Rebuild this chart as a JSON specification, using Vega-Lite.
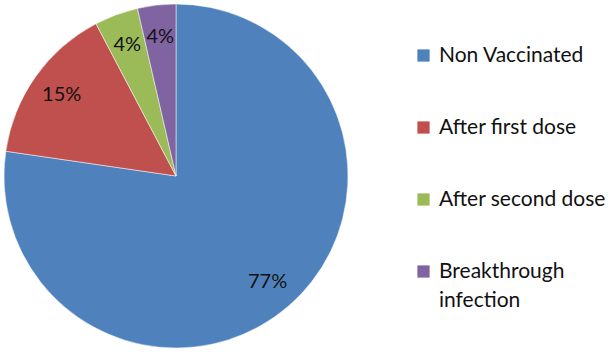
{
  "$schema": "https://vega.github.io/schema/vega-lite/v6.json",
  "width": 352,
  "height": 352,
  "padding": {"left": 0, "top": 0, "right": 262, "bottom": 0},
  "autosize": {"type": "none"},
  "background": "white",
  "config": {
    "view": {"stroke": null},
    "font": "Lato",
    "style": {"guide-label": {"lineHeight": 29}}
  },
  "data": {
    "values": [
      {"group": "Non Vaccinated", "value": 77.3, "label": "77%", "order": 1},
      {"group": "After first dose", "value": 15.0, "label": "15%", "order": 2},
      {"group": "After second dose", "value": 4.1, "label": "4%", "order": 3},
      {"group": "Breakthrough infection", "value": 3.6, "label": "4%", "order": 4}
    ]
  },
  "encoding": {
    "theta": {"field": "value", "type": "quantitative", "stack": true},
    "order": {"field": "order", "type": "quantitative"}
  },
  "layer": [
    {
      "mark": {"type": "arc", "radius": 172, "stroke": "white", "strokeWidth": 0.5},
      "encoding": {
        "color": {
          "field": "group",
          "type": "nominal",
          "scale": {
            "domain": ["Non Vaccinated", "After first dose", "After second dose", "Breakthrough infection"],
            "range": ["#4F81BD", "#C0504D", "#9BBB59", "#8064A2"]
          },
          "legend": {
            "title": null,
            "orient": "none",
            "legendX": 413,
            "legendY": 45,
            "symbolType": "square",
            "symbolSize": 150,
            "symbolStrokeWidth": 0,
            "labelFontSize": 21,
            "labelFont": "Lato",
            "labelColor": "#111111",
            "labelLimit": 300,
            "labelOffset": 5,
            "rowPadding": 50,
            "labelExpr": "datum.label == 'Breakthrough infection' ? ['Breakthrough', 'infection'] : datum.label"
          }
        }
      }
    },
    {
      "mark": {"type": "text", "radius": 140, "fontSize": 20, "font": "Lato", "color": "#111111"},
      "encoding": {"text": {"field": "label", "type": "nominal"}}
    }
  ]
}
